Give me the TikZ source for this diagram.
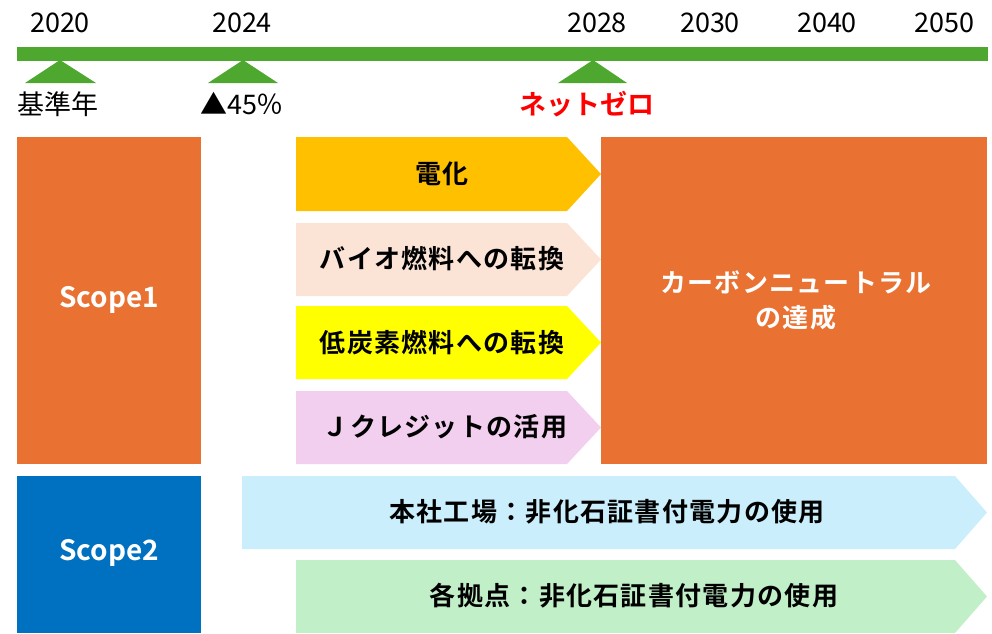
\documentclass[tikz,border=0pt]{standalone}
\usepackage{fontspec}
\setmainfont{Noto Sans CJK JP}[BoldFont={* Bold}]
\newfontfamily\jpwide{Noto Sans CJK JP}[BoldFont={* Bold}, LetterSpace=5]
\definecolor{bargreen}{HTML}{4EA72E}
\definecolor{scopeorange}{HTML}{E97132}
\definecolor{scopeblue}{HTML}{0070C0}
\definecolor{elecc}{HTML}{FFC000}
\definecolor{bioc}{HTML}{FBE3D6}
\definecolor{lowc}{HTML}{FFFF00}
\definecolor{jcc}{HTML}{F2CEEF}
\definecolor{hqc}{HTML}{CAEEFB}
\definecolor{basec}{HTML}{C1F0C8}
\definecolor{netred}{HTML}{FF0000}
\tikzset{
  yearlbl/.style={font=\fontsize{27}{30}\selectfont, text=black, inner sep=0pt},
  marklbl/.style={font=\fontsize{27}{30}\selectfont, text=black, inner sep=0pt},
  scopetxt/.style={font=\bfseries\fontsize{28}{32}\selectfont, text=white, inner sep=0pt, align=center},
  cntxt/.style={font=\jpwide\bfseries\fontsize{26}{35}\selectfont, text=white, inner sep=0pt, align=center},
  arrtxt/.style={font=\jpwide\bfseries\fontsize{26}{30}\selectfont, text=black, inner sep=0pt},
}
\begin{document}
\begin{tikzpicture}[x=1pt,y=-1pt]
\useasboundingbox (0,0) rectangle (992,633);
% timeline
\fill[bargreen] (17,47) rectangle (988,61);
\fill[bargreen] (25,83) -- (60,60) -- (96,83) -- cycle;
\fill[bargreen] (208,83) -- (243,60) -- (278,83) -- cycle;
\fill[bargreen] (558,83) -- (593,60) -- (627,83) -- cycle;
\node[yearlbl] (y2020) at (60,23) {2020};
\node[yearlbl] (y2024) at (242,23) {2024};
\node[yearlbl] (y2028) at (597,23) {2028};
\node[yearlbl] (y2030) at (710,23) {2030};
\node[yearlbl] (y2040) at (827,23) {2040};
\node[yearlbl] (y2050) at (944,23) {2050};
\node[marklbl] (base) at (58,104) {基準年};
\node[marklbl] (m45) at (242,104) {▲45％};
\node[marklbl, font=\bfseries\fontsize{27}{30}\selectfont, text=netred] (nz) at (587,104) {ネットゼロ};
% scope boxes
\fill[scopeorange] (17,137) rectangle (201,464);
\node[scopetxt] (s1) at (109,300) {Scope1};
\fill[scopeblue] (17,476) rectangle (201,633);
\node[scopetxt] (s2) at (109,553) {Scope2};
% scope1 arrows
\fill[elecc] (296,137) -- (567,137) -- (601,174) -- (567,211) -- (296,211) -- cycle;
\node[arrtxt] (a1) at (442,174) {電化};
\fill[bioc] (296,223) -- (567,223) -- (601,259.5) -- (567,296) -- (296,296) -- cycle;
\node[arrtxt] (a2) at (442,259) {バイオ燃料への転換};
\fill[lowc] (296,306) -- (567,306) -- (601,342.5) -- (567,379) -- (296,379) -- cycle;
\node[arrtxt] (a3) at (442,343) {低炭素燃料への転換};
\fill[jcc] (296,391) -- (567,391) -- (601,427.5) -- (567,464) -- (296,464) -- cycle;
\node[arrtxt] (a4) at (445,427) {Ｊクレジットの活用};
% carbon neutral
\fill[scopeorange] (601,137) rectangle (987,464);
\node[cntxt] (cn) at (796,300) {カーボンニュートラル\\の達成};
% scope2 arrows
\fill[hqc] (242,476) -- (955,476) -- (987,512.5) -- (955,549) -- (242,549) -- cycle;
\node[arrtxt] (b1) at (607,512) {本社工場：非化石証書付電力の使用};
\fill[basec] (296,560) -- (955,560) -- (987,596.5) -- (955,633) -- (296,633) -- cycle;
\node[arrtxt] (b2) at (634,596) {各拠点：非化石証書付電力の使用};
\end{tikzpicture}
\end{document}
